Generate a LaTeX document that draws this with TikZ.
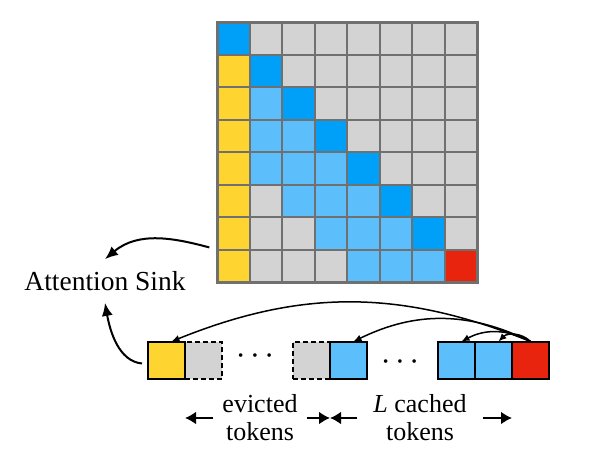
\documentclass[tikz,border=0pt]{standalone}
\usepackage{fontspec}
\setmainfont{Liberation Serif}
\usetikzlibrary{positioning,arrows.meta}
\definecolor{cellG}{RGB}{211,211,211}
\definecolor{cellL}{RGB}{92,190,250}
\definecolor{cellD}{RGB}{0,160,248}
\definecolor{cellY}{RGB}{254,212,48}
\definecolor{cellR}{RGB}{232,36,14}
\definecolor{gridline}{RGB}{112,112,112}
\tikzset{
  cell/.style={draw=gridline, line width=2pt, minimum size=32.5pt, inner sep=0pt, outer sep=0pt},
  token/.style={draw, line width=2pt, minimum size=37pt, inner sep=0pt, outer sep=0pt},
  evicted/.style={token, fill=cellG, dash pattern=on 5pt off 3pt},
  dotsrow/.style={font=\fontsize{15}{15}\selectfont},
  lbl/.style={font=\fontsize{26}{28}\selectfont, align=center, inner xsep=9pt},
  arr/.style={-{Latex[length=13pt,width=11pt]}, line width=2pt},
  attn/.style={-{Latex[length=8pt,width=7pt]}, line width=1.5pt},
  span/.style={-{Latex[length=11pt,width=13pt]}, line width=2.5pt},
}
\newcommand{\tokdots}{\textbullet\hspace{9pt}\textbullet\hspace{9pt}\textbullet}
\begin{document}
\begin{tikzpicture}[x=1pt, y=1pt]
  \useasboundingbox (0,0) rectangle (591,-463);
  % attention matrix
  \foreach \row/\cells in {0/{D,G,G,G,G,G,G,G}, 1/{Y,D,G,G,G,G,G,G},
      2/{Y,L,D,G,G,G,G,G}, 3/{Y,L,L,D,G,G,G,G}, 4/{Y,L,L,L,D,G,G,G},
      5/{Y,G,L,L,L,D,G,G}, 6/{Y,G,G,L,L,L,D,G}, 7/{Y,G,G,G,L,L,L,R}}
    \foreach \c [count=\col from 0] in \cells
      \node[cell, fill=cell\c] (m\row\col) at ({233.25+32.5*\col}, {-38.25-32.5*\row}) {};
  \draw[gridline, line width=3pt] (m00.north west) rectangle (m77.south east);

  % token row
  \node[evicted] (ev1) at (203.5,-360) {};
  \node[token, fill=cellY, left=0pt of ev1] (sinktok) {};
  \node[dotsrow] (dots1) at (255,-357) {\tokdots};
  \node[evicted] (ev2) at (311.5,-360) {};
  \node[token, fill=cellL, right=0pt of ev2] (kv1) {};
  \node[dotsrow] (dots2) at (400,-363) {\tokdots};
  \node[token, fill=cellL] (kv2) at (456.5,-360) {};
  \node[token, fill=cellL, right=0pt of kv2] (kv3) {};
  \node[token, fill=cellR, right=0pt of kv3] (cur) {};

  % labels
  \node[lbl] (evict) at (260,-418) {evicted\\tokens};
  \node[lbl, inner xsep=16pt] (cached) at (420,-418) {\textit{L} cached\\tokens};
  \draw[span] (evict.west) -- (evict.west -| sinktok.east);
  \draw[span] (evict.east) -- (evict.east -| kv1.west);
  \draw[span] (cached.west) -- (cached.west -| kv1.west);
  \draw[span] (cached.east) -- (cached.east -| cur.west);

  \node[font=\fontsize{27.5}{30}\selectfont, inner sep=12pt] (sink) at (105,-281) {Attention Sink};
  \draw[arr, shorten <=8pt] (m70.north west) to[out=165, in=40] (sink.north);
  \draw[arr, shorten <=6pt] ([yshift=-4pt]sinktok.west) to[out=175, in=-80] (sink.south);

  % attention from the current token
  \draw[attn] (cur.north) to[bend right=22] ([xshift=5pt]sinktok.north);
  \draw[attn] (cur.north) to[bend right=26] ([xshift=5pt]kv1.north);
  \draw[attn] (cur.north) to[bend right=28] ([xshift=5pt]kv2.north);
  \draw[attn] (cur.north) to[bend right=45] ([xshift=5pt]kv3.north);
\end{tikzpicture}
\end{document}
